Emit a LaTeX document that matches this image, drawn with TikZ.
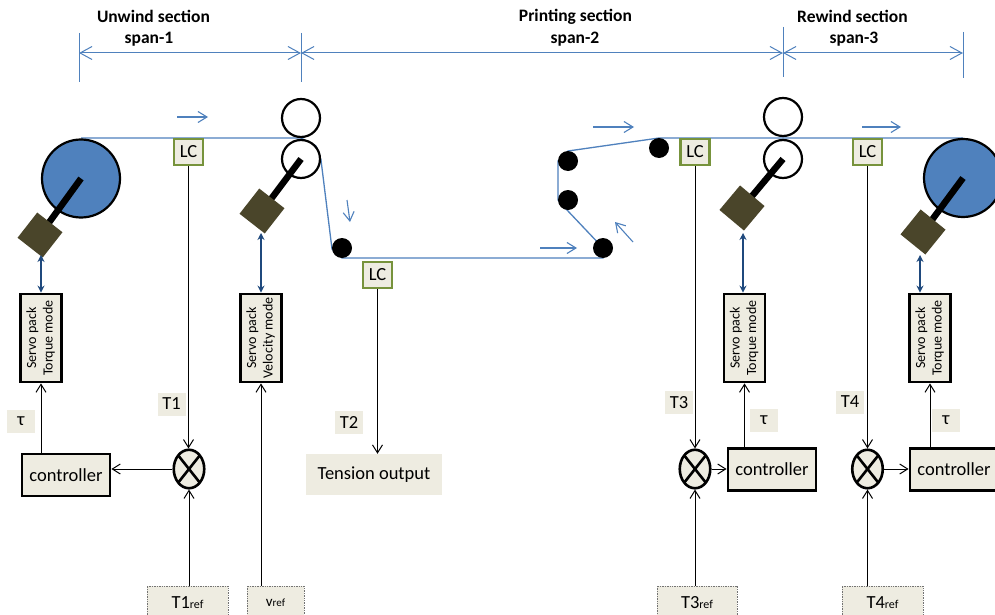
\documentclass[tikz,border=0pt]{standalone}
\usepackage{fontspec}
\setmainfont{Carlito}
\usepackage{graphicx}
\usetikzlibrary{arrows.meta,shapes.geometric}

\definecolor{paper}{HTML}{EEECE1}
\definecolor{webblue}{HTML}{4F81BD}
\definecolor{motorbrown}{HTML}{4A452A}
\definecolor{linkblue}{HTML}{1F497D}
\definecolor{lcgreen}{HTML}{77933C}

\newcommand{\setsz}[2]{\fontsize{#1}{#2}\selectfont}
\newcommand{\servotext}[2]{\rotatebox{90}{\begin{tabular}{@{}c@{}}#1\\#2\end{tabular}}}

\begin{document}
\begin{tikzpicture}[x=1pt,y=-1pt,
  web/.style={webblue,line width=1.3pt},
  dimtick/.style={webblue,line width=1pt},
  dimline/.style={webblue,line width=1pt,{Straight Barb[length=12pt,width=13pt]}-{Straight Barb[length=12pt,width=13pt]}},
  flow/.style={webblue,line width=1.1pt,-{Straight Barb[length=9pt,width=11pt]}},
  bigroll/.style={circle,draw=black,line width=2.2pt,fill=webblue,minimum size=78pt,inner sep=0pt},
  niproll/.style={circle,draw=black,line width=2.2pt,fill=white,minimum size=38pt,inner sep=0pt},
  idler/.style={circle,fill=black,minimum size=20pt,inner sep=0pt},
  shaft/.style={black,line width=6.5pt},
  motor/.style={rectangle,fill=motorbrown,minimum size=32pt,inner sep=0pt},
  link/.style={linkblue,line width=1.2pt,{Stealth[length=7pt,width=7pt]}-{Stealth[length=7pt,width=7pt]}},
  lc/.style={rectangle,draw=lcgreen,line width=2.4pt,fill=paper,minimum width=29pt,minimum height=26pt,inner sep=0pt,font=\setsz{18.5}{22}},
  servo/.style={rectangle,draw=black,line width=2.8pt,fill=paper,minimum width=41pt,minimum height=88pt,inner sep=0pt,font=\setsz{14}{16.5}},
  ctrl/.style={rectangle,draw=black,line width=2.8pt,fill=paper,minimum width=88pt,minimum height=42pt,inner sep=0pt,font=\setsz{18.5}{22}},
  sumjunction/.style={ellipse,draw=black,line width=2.6pt,fill=paper,minimum width=30.5pt,minimum height=38.5pt,inner sep=0pt,
    path picture={\draw[black,line width=2.6pt] (path picture bounding box.north west) -- (path picture bounding box.south east)
      (path picture bounding box.north east) -- (path picture bounding box.south west);}},
  tag/.style={rectangle,fill=paper,minimum width=28pt,minimum height=23pt,inner sep=0pt,font=\setsz{18.5}{22}},
  refbox/.style={rectangle,draw=black!55,densely dotted,line width=0.7pt,fill=paper,minimum height=34pt,inner sep=0pt,font=\setsz{18.5}{22}},
  fb/.style={black,line width=1pt,-{Straight Barb[length=8pt,width=10pt]}},
  secthead/.style={inner sep=0pt,font=\bfseries\setsz{17.5}{20}},
]
\useasboundingbox (0,0) rectangle (995,615);
\clip (0,0) rectangle (995,615);
\fill[white] (0,0) rectangle (995,615);

% section headings and span dimensions
\node[secthead] (hd1) at (153.5,16.5) {Unwind section};
\node[secthead] (sp1) at (149,39) {span-1};
\node[secthead] (hd2) at (575.5,16.5) {Printing section};
\node[secthead] (sp2) at (575,39) {span-2};
\node[secthead] (hd3) at (852.5,16.5) {Rewind section};
\node[secthead] (sp3) at (854,39) {span-3};

\draw[dimtick] (79,33) -- (79,82);
\draw[dimtick] (301,33) -- (301,82);
\draw[dimtick] (783,27) -- (783,77);
\draw[dimtick] (963,32) -- (963,78);
\draw[dimline] (79,53) -- (301,53);
\draw[dimline] (301,53) -- (783,53);
\draw[dimline] (783,53) -- (963,53);

% web path
\draw[web] (81,138) -- (301,138) -- (316,146) -- (321,160) -- (332,249) -- (342,258)
  -- (603,258) -- (603,248) -- (567,210) -- (558,200) -- (558,161) -- (568,151)
  -- (659,138) -- (963,138);

% web direction arrows
\draw[flow] (177,117) -- (208,117);
\draw[flow] (347,200) -- (350,222);
\draw[flow] (540,248) -- (577,248);
\draw[flow] (633,242) -- (615,222);
\draw[flow] (593,127) -- (634,127);
\draw[flow] (862,127) -- (901,127);

% rolls
\node[bigroll] (unwind) at (81,178.5) {};
\node[bigroll] (rewind) at (963,178) {};
\node[niproll] (nip1a) at (301,118) {};
\node[niproll] (nip1b) at (301,159) {};
\node[niproll] (nip2a) at (783,117) {};
\node[niproll] (nip2b) at (783,159) {};
\node[idler] (id1) at (342,248) {};
\node[idler] (id2) at (568,161) {};
\node[idler] (id3) at (568,200) {};
\node[idler] (id4) at (603,248) {};
\node[idler] (id5) at (659,148) {};

% shafts and motors
\coordinate (m1) at (40,235);
\coordinate (m2) at (262,211);
\coordinate (m3) at (742,208);
\coordinate (m4) at (923,232);
\draw[shaft] (unwind.center) -- (m1);
\draw[shaft] (nip1b.center) -- (m2);
\draw[shaft] (nip2b.center) -- (m3);
\draw[shaft] (rewind.center) -- (m4);
\node[motor,rotate=52] (mot1) at (m1) {};
\node[motor,rotate=52] (mot2) at (m2) {};
\node[motor,rotate=50] (mot3) at (m3) {};
\node[motor,rotate=51] (mot4) at (m4) {};

% load cells
\node[lc] (lc1) at (188.5,152) {LC};
\node[lc] (lc2) at (377.5,275) {LC};
\node[lc] (lc3) at (695,152) {LC};
\node[lc] (lc4) at (867.5,152) {LC};

% servo packs
\node[servo] (sv1) at (41,338) {\servotext{Servo pack}{Torque mode}};
\node[servo] (sv2) at (261,338) {\servotext{Servo pack}{Velocity mode}};
\node[servo] (sv3) at (744.5,338) {\servotext{Servo pack}{Torque mode}};
\node[servo] (sv4) at (930,338) {\servotext{Servo pack}{Torque mode}};

% motor to servo pack links
\coordinate (l1) at (41,255);
\coordinate (l2) at (261,233);
\coordinate (l3) at (743,233);
\coordinate (l4) at (920,255);
\draw[link] (l1) -- (l1 |- sv1.north);
\draw[link] (l2) -- (l2 |- sv2.north);
\draw[link] (l3) -- (l3 |- sv3.north);
\draw[link] (l4) -- (l4 |- sv4.north);

% controllers and summing junctions
\node[ctrl] (c1) at (66,475) {controller};
\node[ctrl] (c3) at (772,469.5) {controller};
\node[ctrl] (c4) at (954,469.5) {controller};
\node[sumjunction] (s1) at (189,469) {};
\node[sumjunction] (s3) at (695,469) {};
\node[sumjunction] (s4) at (867.5,469) {};

% signal labels
\node[tag] (tT1) at (171.5,404) {T1};
\node[tag] (tT2) at (349,422.5) {T2};
\node[tag] (tT3) at (679,402.5) {T3};
\node[tag] (tT4) at (850,402) {T4};
\node[tag] (tau1) at (21,421) {τ};
\node[tag] (tau3) at (764,420) {τ};
\node[tag] (tau4) at (946,420.5) {τ};
\node[tag,minimum width=136pt,minimum height=41pt] (tout) at (374,474.5) {Tension output};

% reference inputs
\node[refbox,minimum width=81pt] (r1) at (187.5,603) {T1{\setsz{12}{14}ref}};
\node[refbox,minimum width=57pt] (rv) at (275.5,603) {{\setsz{15}{17}v}{\setsz{11}{13}ref}};
\node[refbox,minimum width=80pt] (r3) at (697,603) {T3{\setsz{12}{14}ref}};
\node[refbox,minimum width=81pt] (r4) at (882.5,603) {T4{\setsz{12}{14}ref}};

% signal connectors
\draw[fb] (lc1.south) -- (lc1.south |- s1.north);
\draw[fb] (s1.west) -- (s1.west -| c1.east);
\draw[fb] (sv1.south |- c1.north) -- (sv1.south);
\draw[fb] (r1.north -| s1.south) -- (s1.south);
\draw[fb] (rv.north -| sv2.south) -- (sv2.south);
\draw[fb] (lc2.south) -- (lc2.south |- tout.north);
\draw[fb] (lc3.south) -- (s3.north);
\draw[fb] (s3.east) -- (s3.east -| c3.west);
\draw[fb] (sv3.south |- c3.north) -- (sv3.south);
\draw[fb] (r3.north -| s3.south) -- (s3.south);
\draw[fb] (lc4.south) -- (s4.north);
\draw[fb] (s4.east) -- (s4.east -| c4.west);
\draw[fb] (sv4.south |- c4.north) -- (sv4.south);
\draw[fb] (r4.north -| s4.south) -- (s4.south);
\end{tikzpicture}
\end{document}
